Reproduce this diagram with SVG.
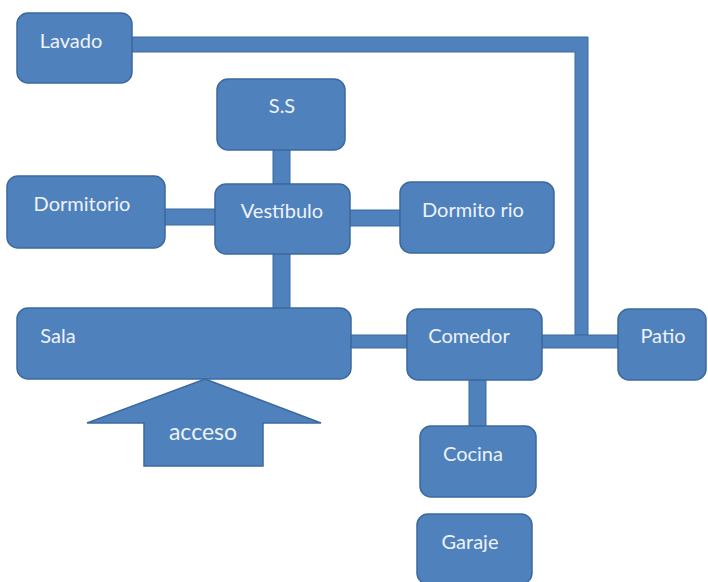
<svg xmlns="http://www.w3.org/2000/svg" width="708" height="582" viewBox="0 0 708 582">
  <style>
    .box { fill: #4f81bd; stroke: #3d6a9e; stroke-width: 1.5; }
    .bar { fill: #4f81bd; stroke: #3d6a9e; stroke-width: 1; }
    .lbl { font-family: Lato, "Open Sans", sans-serif; font-size: 20px; fill: #eef3fa; text-anchor: middle; }
  </style>
  <rect width="708" height="582" fill="#ffffff"/>

  <!-- connectors -->
  <g id="connectors">
    <path class="bar" d="M132 37 H588 V335 H575 V52 H132 Z"/>
    <rect class="bar" x="273" y="150" width="17" height="34"/>
    <rect class="bar" x="165" y="209" width="50" height="16"/>
    <rect class="bar" x="350" y="210" width="50" height="16"/>
    <rect class="bar" x="273" y="254" width="17" height="55"/>
    <rect class="bar" x="351" y="335" width="56" height="13"/>
    <rect class="bar" x="542" y="335" width="76" height="13"/>
    <rect class="bar" x="469" y="380" width="17" height="46"/>
  </g>

  <g id="lavado">
    <rect class="box" x="17" y="13" width="115" height="70" rx="11"/>
    <text class="lbl" x="71" y="48">Lavado</text>
  </g>
  <g id="ss">
    <rect class="box" x="217" y="79" width="128" height="71" rx="11"/>
    <text class="lbl" x="282" y="113">S.S</text>
  </g>
  <g id="dormitorio-izq">
    <rect class="box" x="7" y="176" width="158" height="72" rx="11"/>
    <text class="lbl" x="82" y="211">Dormitorio</text>
  </g>
  <g id="vestibulo">
    <rect class="box" x="215" y="184" width="135" height="70" rx="11"/>
    <text class="lbl" x="282" y="218">Vestíbulo</text>
  </g>
  <g id="dormitorio-der">
    <rect class="box" x="400" y="182" width="154" height="71" rx="11"/>
    <text class="lbl" x="473" y="217">Dormito rio</text>
  </g>
  <g id="sala">
    <rect class="box" x="17" y="308" width="334" height="71" rx="11"/>
    <text class="lbl" x="58" y="343">Sala</text>
  </g>
  <g id="acceso">
    <polygon class="box" points="205,379 321,423 263,423 263,466 144,466 144,423 87,423"/>
    <text class="lbl" x="203" y="440" style="font-size:23px">acceso</text>
  </g>
  <g id="comedor">
    <rect class="box" x="407" y="309" width="135" height="71" rx="11"/>
    <text class="lbl" x="469" y="343">Comedor</text>
  </g>
  <g id="patio">
    <rect class="box" x="618" y="309" width="88" height="71" rx="11"/>
    <text class="lbl" x="663" y="343">Patio</text>
  </g>
  <g id="cocina">
    <rect class="box" x="420" y="426" width="116" height="71" rx="11"/>
    <text class="lbl" x="473" y="461">Cocina</text>
  </g>
  <g id="garaje">
    <rect class="box" x="417" y="514" width="115" height="70" rx="11"/>
    <text class="lbl" x="470" y="549">Garaje</text>
  </g>
</svg>
